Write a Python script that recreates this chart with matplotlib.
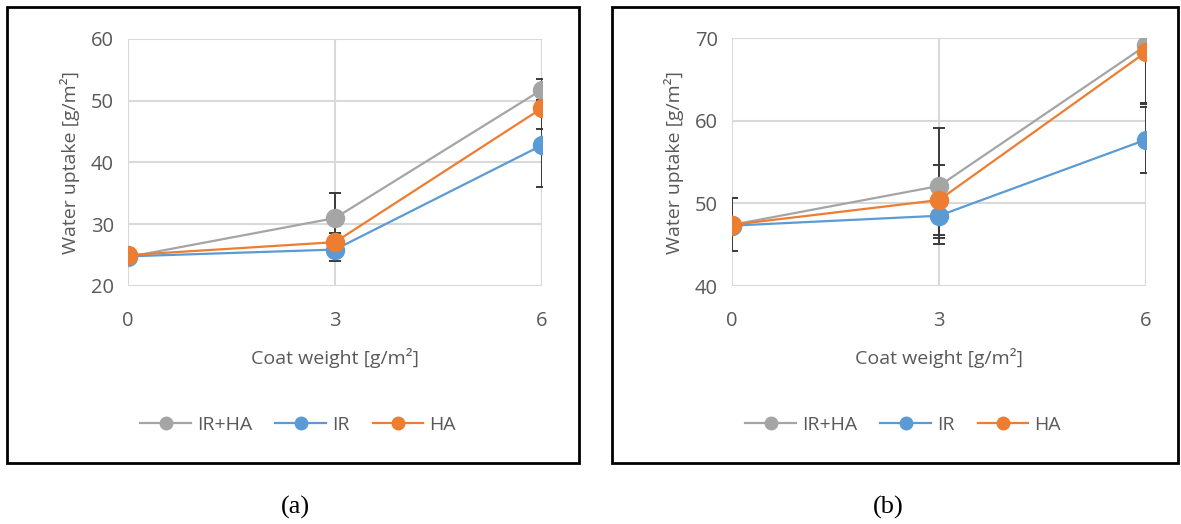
import matplotlib
matplotlib.use('Agg')
import matplotlib.pyplot as plt
from matplotlib.patches import Rectangle
from matplotlib.lines import Line2D

plt.rcParams['font.family'] = ['Open Sans', 'DejaVu Sans']

# Data
coat_weight = [0, 3, 6]
series_names = ['IR+HA', 'IR', 'HA']

a_irha = [24.7, 31.0, 51.8]
a_ir = [24.8, 25.9, 42.8]
a_ha = [25.0, 27.1, 48.8]
a_irha_err = [0.4, 4.0, 1.7]
a_ir_err = [0.4, 1.8, 6.8]
a_ha_err = [0.4, 1.5, 3.3]

b_irha = [47.4, 52.1, 69.1]
b_ir = [47.3, 48.5, 57.7]
b_ha = [47.4, 50.4, 68.3]
b_irha_err = [3.2, 7.0, 7.0]
b_ir_err = [0.4, 2.7, 4.0]
b_ha_err = [0.4, 4.2, 6.3]

COLORS = {'IR+HA': '#A5A5A5', 'IR': '#5B9BD5', 'HA': '#ED7D31'}
TEXT = '#595959'
GRID = '#D9D9D9'

W, H = 1181, 524
fig = plt.figure(figsize=(W / 100, H / 100), dpi=100)


def px_axes(x0, y0, x1, y1):
    return fig.add_axes([x0 / W, 1 - y1 / H, (x1 - x0) / W, (y1 - y0) / H])


def frame(x0, y0, x1, y1):
    fig.patches.append(Rectangle((x0 / W, 1 - y1 / H), (x1 - x0) / W,
                                 (y1 - y0) / H, transform=fig.transFigure,
                                 fill=False, edgecolor='black', linewidth=2))


def draw_panel(ax, values, errs, ylim, yticks, legend_x):
    for name, y, e in zip(series_names, values, errs):
        ax.errorbar(coat_weight, y, yerr=e, color=COLORS[name],
                    ecolor='#3A3A3A', elinewidth=1.4, capsize=4,
                    capthick=1.4, linewidth=1.6, marker='o',
                    markersize=13, zorder=3)
    ax.set_xlim(0, 6)
    ax.set_ylim(*ylim)
    ax.set_xticks(coat_weight)
    ax.set_yticks(yticks)
    ax.grid(True, color=GRID, linewidth=1.5, zorder=0)
    for s in ax.spines.values():
        s.set_visible(False)
    ax.tick_params(length=0, labelsize=14.5, labelcolor=TEXT, pad=10)
    ax.tick_params(axis='x', pad=18)
    ax.set_xlabel('Coat weight [g/m²]', fontsize=14, color=TEXT, labelpad=12)
    ax.set_ylabel('Water uptake [g/m²]', fontsize=14, color=TEXT, labelpad=8)
    handles = [Line2D([], [], color=COLORS[n], linewidth=1.6, marker='o',
                      markersize=9) for n in series_names]
    leg = ax.legend(handles, series_names, loc='center',
                    bbox_to_anchor=(legend_x / W, 1 - 425 / H),
                    bbox_transform=fig.transFigure, ncol=3, frameon=False,
                    fontsize=14, handlelength=2.6, columnspacing=1.2,
                    handletextpad=0.3)
    for t in leg.get_texts():
        t.set_color(TEXT)


frame(7, 7, 579, 463)
frame(612, 7, 1178, 463)

ax1 = px_axes(128, 39, 542, 286)
draw_panel(ax1, [a_irha, a_ir, a_ha], [a_irha_err, a_ir_err, a_ha_err],
           (20, 60), [20, 30, 40, 50, 60], 298)

ax2 = px_axes(732, 38, 1146, 286)
draw_panel(ax2, [b_irha, b_ir, b_ha], [b_irha_err, b_ir_err, b_ha_err],
           (40, 70), [40, 50, 60, 70], 903)

fig.text(295 / W, 1 - 507 / H, '(a)', fontsize=19, family='Liberation Serif',
         ha='center', va='center')
fig.text(888 / W, 1 - 507 / H, '(b)', fontsize=19, family='Liberation Serif',
         ha='center', va='center')

fig.savefig('out.png', dpi=100)
